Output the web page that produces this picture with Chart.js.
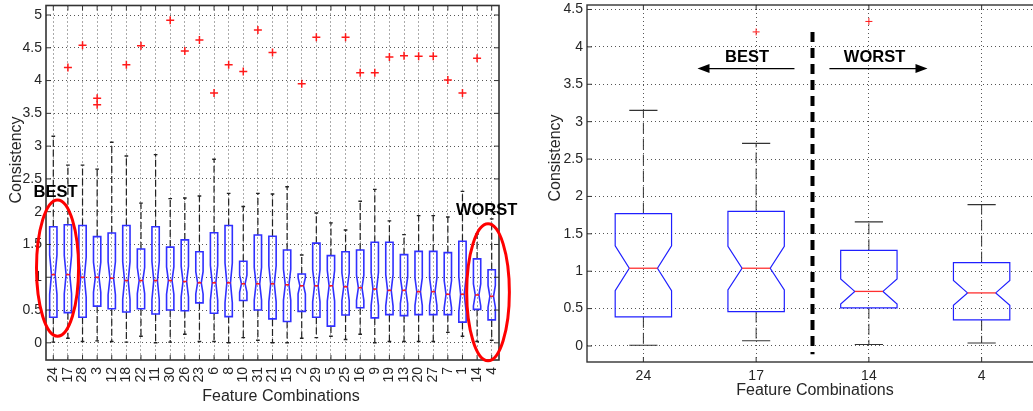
<!DOCTYPE html>
<html>
<head>
<meta charset="utf-8">
<title>Consistency per feature combination</title>
<script src="https://cdn.jsdelivr.net/npm/chart.js@4.4.1/dist/chart.umd.min.js"></script>
<style>
  html, body { margin: 0; padding: 0; background: #fff; overflow: hidden; }
  #wrap { position: relative; width: 1033px; height: 411px; overflow: hidden; }
  canvas { position: absolute; top: 0; }
  #allChart { left: 0; }
  #pickChart { left: 530px; }
</style>
</head>
<body>
<div id="wrap">
  <canvas id="allChart" width="520" height="411"></canvas>
  <canvas id="pickChart" width="540" height="411"></canvas>
</div>
<script>
// feature combinations, best to worst
const combos = ['24','17','28','3','12','18','22','11','30','26','23','6','8','10','31','21',
                '15','2','29','5','25','16','9','19','13','20','27','7','1','14','4'];
const whiskerLow  = [0.01,0.07,0.02,0.03,0.02,0.01,0.10,0.00,0.01,0.13,0.02,0.02,0.00,0.08,0.04,0.00,
                     0.00,0.07,0.08,0.10,0.05,0.13,0.00,0.02,0.02,0.02,0.02,0.16,0.10,0.02,0.04];
const quartile1   = [0.39,0.46,0.39,0.56,0.52,0.47,0.52,0.44,0.50,0.49,0.61,0.45,0.40,0.645,0.50,0.365,
                     0.325,0.48,0.39,0.255,0.425,0.535,0.38,0.43,0.415,0.43,0.43,0.43,0.315,0.51,0.35];
const medians     = [1.04,1.04,1.00,1.00,0.985,0.95,0.95,0.95,0.95,0.935,0.915,0.915,0.915,0.90,0.90,0.90,
                     0.885,0.87,0.87,0.87,0.855,0.84,0.82,0.80,0.80,0.78,0.78,0.74,0.74,0.73,0.71];
const quartile3   = [1.77,1.80,1.79,1.62,1.675,1.79,1.43,1.77,1.46,1.57,1.39,1.68,1.79,1.245,1.645,1.625,
                     1.415,1.05,1.52,1.33,1.39,1.415,1.535,1.535,1.345,1.395,1.395,1.375,1.55,1.28,1.115];
const whiskerHigh = [3.15,2.71,2.71,2.65,3.06,2.85,2.13,2.87,2.20,2.21,2.24,2.80,2.28,2.08,2.28,2.27,
                     2.38,1.34,1.98,1.83,1.72,2.16,2.34,1.86,1.65,1.94,1.94,1.92,2.31,1.66,1.89];
// points beyond the whiskers: [combination, consistency]
const outliers = [['17',4.20],['28',4.54],['3',3.73],['3',3.63],['18',4.24],['22',4.53],['30',4.92],
                  ['26',4.45],['23',4.62],['6',3.81],['8',4.24],['10',4.14],['31',4.77],['21',4.43],
                  ['2',3.95],['29',4.66],['25',4.66],['16',4.12],['9',4.12],['19',4.36],['13',4.38],
                  ['20',4.37],['27',4.37],['7',4.01],['1',3.81],['14',4.34]];
// the two best and two worst combinations
const picked = ['24','17','14','4'];
const yTicksAll = [0,0.5,1,1.5,2,2.5,3,3.5,4,4.5,5];
const yTicksPicked = [0,0.5,1,1.5,2,2.5,3,3.5,4,4.5];
const groupSize = 52;   // runs per combination, sets the notch size

const FONT = "'Liberation Sans', Arial, sans-serif";
Chart.defaults.font.family = FONT;
Chart.defaults.color = '#262626';

function statsFor(labels) {
  return labels.map(c => {
    const i = combos.indexOf(c);
    return { lo: whiskerLow[i], q1: quartile1[i], med: medians[i], q3: quartile3[i], hi: whiskerHigh[i] };
  });
}

// matlab style notched boxes with dashed whiskers
function boxPlugin(stats, st) {
  return {
    id: 'notchedBoxes',
    beforeDatasetsDraw(chart) {
      const { ctx, scales: { x, y } } = chart;
      const unit = x.getPixelForValue(1) - x.getPixelForValue(0);
      const hw = unit * 0.25, nw = unit * 0.125;
      const Y = v => y.getPixelForValue(v);
      stats.forEach((s, i) => {
        const cx = x.getPixelForValue(i);
        const nh = 1.57 * (s.q3 - s.q1) / Math.sqrt(groupSize);
        ctx.save();
        ctx.strokeStyle = st.whisker;
        ctx.lineWidth = st.whiskerWidth;
        ctx.setLineDash(st.whiskerDash);
        ctx.beginPath();
        ctx.moveTo(cx, Y(s.q3)); ctx.lineTo(cx, Y(s.hi));
        ctx.moveTo(cx, Y(s.q1)); ctx.lineTo(cx, Y(s.lo));
        ctx.stroke();
        ctx.setLineDash([]);
        ctx.lineWidth = st.capWidth;
        ctx.beginPath();
        [s.hi, s.lo].forEach(v => { ctx.moveTo(cx - nw, Y(v)); ctx.lineTo(cx + nw, Y(v)); });
        ctx.stroke();

        ctx.strokeStyle = st.box;
        ctx.lineWidth = st.boxWidth;
        ctx.beginPath();
        ctx.moveTo(cx - hw, Y(s.q1));
        ctx.lineTo(cx - hw, Y(s.med - nh));
        ctx.lineTo(cx - nw, Y(s.med));
        ctx.lineTo(cx - hw, Y(s.med + nh));
        ctx.lineTo(cx - hw, Y(s.q3));
        ctx.lineTo(cx + hw, Y(s.q3));
        ctx.lineTo(cx + hw, Y(s.med + nh));
        ctx.lineTo(cx + nw, Y(s.med));
        ctx.lineTo(cx + hw, Y(s.med - nh));
        ctx.lineTo(cx + hw, Y(s.q1));
        ctx.closePath();
        ctx.stroke();

        ctx.strokeStyle = st.median;
        ctx.lineWidth = st.medianWidth;
        ctx.beginPath();
        ctx.moveTo(cx - nw, Y(s.med)); ctx.lineTo(cx + nw, Y(s.med));
        ctx.stroke();
        ctx.restore();
      });
    }
  };
}

// axes box, inward tick marks and axis titles
function framePlugin(st) {
  return {
    id: 'frame',
    afterDraw(chart) {
      const { ctx, chartArea: a, scales: { x, y } } = chart;
      const L = 5;
      ctx.save();
      ctx.strokeStyle = st.color;
      ctx.lineWidth = 1;
      ctx.beginPath();
      x.ticks.forEach((t, i) => {
        const px = x.getPixelForTick(i);
        ctx.moveTo(px, a.top); ctx.lineTo(px, a.top + L);
        ctx.moveTo(px, a.bottom); ctx.lineTo(px, a.bottom - L);
      });
      y.ticks.forEach(t => {
        const py = y.getPixelForValue(t.value);
        ctx.moveTo(a.left, py); ctx.lineTo(a.left + L, py);
        ctx.moveTo(a.right, py); ctx.lineTo(a.right - L, py);
      });
      ctx.stroke();
      ctx.lineWidth = st.width;
      ctx.strokeRect(a.left, a.top, a.right - a.left, a.bottom - a.top);

      ctx.fillStyle = '#262626';
      ctx.font = '16px ' + FONT;
      ctx.textAlign = 'center';
      ctx.textBaseline = 'middle';
      ctx.fillText('Feature Combinations', st.xTitle[0], st.xTitle[1]);
      ctx.translate(st.yTitle[0], st.yTitle[1]);
      ctx.rotate(-Math.PI / 2);
      ctx.fillText('Consistency', 0, 0);
      ctx.restore();
    }
  };
}

function noteText(ctx, text, px, py) {
  ctx.fillStyle = '#000';
  ctx.font = 'bold 16.5px ' + FONT;
  ctx.textAlign = 'center';
  ctx.textBaseline = 'middle';
  ctx.fillText(text, px, py);
}

function yScale(min, max, ticks, width) {
  return {
    type: 'linear', min, max,
    afterBuildTicks(s) { s.ticks = ticks.map(v => ({ value: v })); },
    afterFit(s) { s.width = width; s.paddingTop = 0; s.paddingBottom = 0; },
    ticks: { callback: v => String(v), padding: 4, font: { size: 14 } },
    grid: { color: '#555', lineWidth: 1, drawTicks: false },
    border: { display: false, dash: [1, 3] }
  };
}

function xScale(labels, height, rotated) {
  return {
    type: 'category', labels, offset: true,
    afterFit(s) { s.height = height; s.paddingLeft = 0; s.paddingRight = 0; },
    ticks: {
      autoSkip: false, font: { size: 14 }, padding: rotated ? 7 : 6,
      minRotation: rotated ? 90 : 0, maxRotation: rotated ? 90 : 0
    },
    grid: { offset: false, color: '#555', lineWidth: 1, drawTicks: false },
    border: { display: false, dash: [1, 3] }
  };
}

function outlierSet(labels, radius, width) {
  return {
    data: outliers.filter(o => labels.includes(o[0])).map(o => ({ x: o[0], y: o[1] })),
    showLine: false,
    pointStyle: 'cross',
    pointRadius: radius,
    pointBorderWidth: width,
    borderColor: '#ff1a1a',
    backgroundColor: '#ff1a1a'
  };
}

// all combinations, best and worst ringed
const ringNotes = {
  id: 'ringNotes',
  afterDraw(chart) {
    const { ctx, scales: { x, y } } = chart;
    const unit = x.getPixelForValue(1) - x.getPixelForValue(0);
    const rings = [
      { text: 'BEST', tx: 0.15, ty: 2.29, cx: 0.29, cy: 1.14, rx: 1.44, ry: 1.04 },
      { text: 'WORST', tx: 29.65, ty: 2.02, cx: 29.75, cy: 0.77, rx: 1.46, ry: 1.045 }
    ];
    ctx.save();
    rings.forEach(r => {
      const cy = y.getPixelForValue(r.cy);
      ctx.strokeStyle = '#f00';
      ctx.lineWidth = 3;
      ctx.beginPath();
      ctx.ellipse(x.getPixelForValue(r.cx), cy, r.rx * unit,
                  Math.abs(y.getPixelForValue(r.cy + r.ry) - cy), 0, 0, Math.PI * 2);
      ctx.stroke();
      noteText(ctx, r.text, x.getPixelForValue(r.tx), y.getPixelForValue(r.ty));
    });
    ctx.restore();
  }
};

// divider between the best and worst pairs, with direction arrows
const arrowNotes = {
  id: 'arrowNotes',
  afterDraw(chart) {
    const { ctx, scales: { x, y } } = chart;
    ctx.save();
    const sx = x.getPixelForValue(1.5);
    ctx.strokeStyle = '#000';
    ctx.lineWidth = 4;
    ctx.setLineDash([10, 6]);
    ctx.beginPath();
    ctx.moveTo(sx, y.getPixelForValue(4.2));
    ctx.lineTo(sx, y.getPixelForValue(-0.11));
    ctx.stroke();
    ctx.setLineDash([]);

    const ay = y.getPixelForValue(3.71);
    [[1.34, 0.48], [1.65, 2.52]].forEach(([from, to]) => {
      const x0 = x.getPixelForValue(from), x1 = x.getPixelForValue(to);
      const dir = Math.sign(x1 - x0);
      ctx.lineWidth = 1.2;
      ctx.beginPath();
      ctx.moveTo(x0, ay); ctx.lineTo(x1 - dir * 10, ay);
      ctx.stroke();
      ctx.fillStyle = '#000';
      ctx.beginPath();
      ctx.moveTo(x1, ay);
      ctx.lineTo(x1 - dir * 12, ay - 4.5);
      ctx.lineTo(x1 - dir * 12, ay + 4.5);
      ctx.closePath();
      ctx.fill();
    });
    noteText(ctx, 'BEST', x.getPixelForValue(0.92), y.getPixelForValue(3.86));
    noteText(ctx, 'WORST', x.getPixelForValue(2.05), y.getPixelForValue(3.86));
    ctx.restore();
  }
};

const common = {
  responsive: false,
  animation: false,
  events: [],
  plugins: { legend: { display: false }, tooltip: { enabled: false } }
};

new Chart(document.getElementById('allChart'), {
  type: 'line',
  data: { labels: combos, datasets: [outlierSet(combos, 4, 1.5)] },
  options: {
    ...common,
    layout: { padding: { top: 3, right: 21, left: 0, bottom: 0 } },
    scales: {
      x: xScale(combos, 51, true),
      y: yScale(-0.262, 5.145, yTicksAll, 46)
    }
  },
  plugins: [
    boxPlugin(statsFor(combos), {
      box: '#3030ff', boxWidth: 1.6, median: '#ff1a1a', medianWidth: 1.6,
      whisker: '#222', whiskerWidth: 1.2, whiskerDash: [7, 3], capWidth: 1.4
    }),
    framePlugin({ color: '#333', width: 1.6, xTitle: [281, 397], yTitle: [16.5, 160] }),
    ringNotes
  ]
});

new Chart(document.getElementById('pickChart'), {
  type: 'line',
  data: { labels: picked, datasets: [outlierSet(picked, 3.5, 1)] },
  options: {
    ...common,
    layout: { padding: { top: 5, right: 32, left: 0, bottom: 0 } },
    scales: {
      x: xScale(picked, 49, false),
      y: yScale(-0.214, 4.56, yTicksPicked, 57)
    }
  },
  plugins: [
    boxPlugin(statsFor(picked), {
      box: '#2020ff', boxWidth: 1.2, median: '#ff3030', medianWidth: 1.3,
      whisker: '#333', whiskerWidth: 1, whiskerDash: [11, 5], capWidth: 1.2
    }),
    framePlugin({ color: '#333', width: 1.4, xTitle: [285, 391], yTitle: [25.8, 158] }),
    arrowNotes
  ]
});
</script>
</body>
</html>
